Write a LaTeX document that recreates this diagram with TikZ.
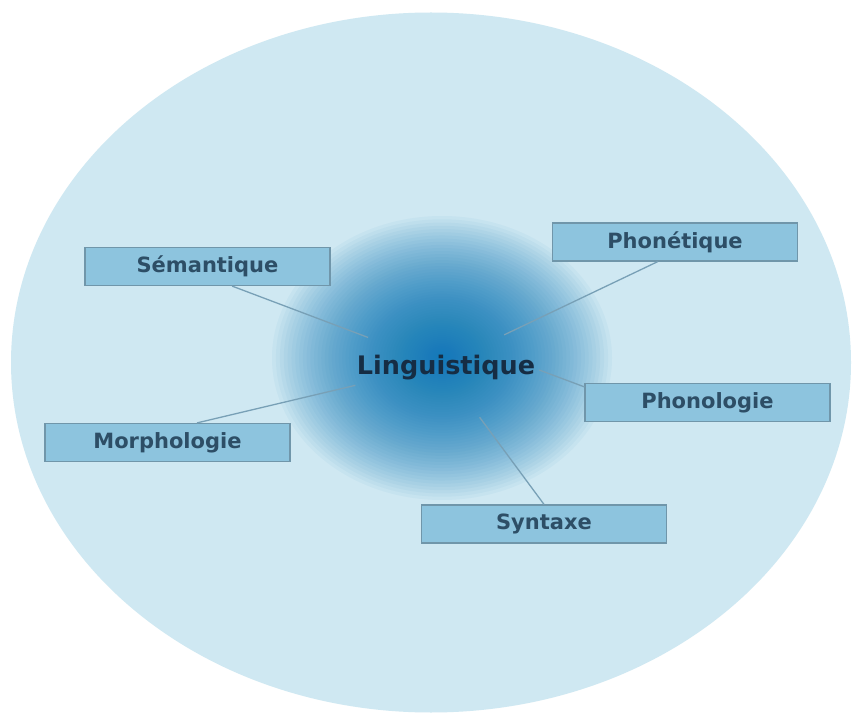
\documentclass[tikz,border=0pt]{standalone}
\usepackage{fontspec}
\setmainfont{DejaVu Sans}
\usetikzlibrary{calc}
\definecolor{bgblue}{RGB}{207,232,242}
\definecolor{boxfill}{RGB}{141,196,222}
\definecolor{boxline}{RGB}{112,150,170}
\definecolor{txt}{RGB}{45,78,102}
\definecolor{txtdark}{RGB}{22,45,68}
\definecolor{linec}{RGB}{120,160,182}
\definecolor{glowdark}{RGB}{14,122,186}
\tikzset{
  topic/.style={draw=boxline, line width=1.2pt, fill=boxfill, minimum width=245pt, minimum height=38pt, inner sep=0pt, text=txt, font=\bfseries\fontsize{21}{24}\selectfont},
  link/.style={draw=linec, line width=1.3pt},
  glowlayer/.style={fill=glowdark, fill opacity=0.045},
}
\begin{document}
\begin{tikzpicture}[x=1pt,y=1pt]
\useasboundingbox (0,0) rectangle (862,716);
\fill[white] (0,0) rectangle (862,716);
\fill[bgblue] (431,353.5) ellipse [x radius=420, y radius=350];
\foreach \k in {60,59,...,1}{
  \pgfmathsetmacro{\f}{(\k/60)^1.4}
  \fill[glowlayer] (442,358) ellipse [x radius={170*\f}, y radius={142*\f}];
}
\coordinate (c) at (441,351);
\node[topic] (sem) at (207.5,449.5) {Sémantique};
\node[topic] (phon) at (675,474) {Phonétique};
\node[topic] (morph) at (167.5,273.5) {Morphologie};
\node[topic] (syn) at (544,192) {Syntaxe};
\node[topic] (phonol) at (707.5,313.5) {Phonologie};
\node[inner sep=0pt, text=txtdark, font=\bfseries\fontsize{25.5}{29}\selectfont] (ling) at (446,348) {Linguistique};
\draw[link, shorten >=78pt] ($(sem.south west)!0.6!(sem.south east)$) -- (c);
\draw[link, shorten >=70pt] ($(phon.south west)!0.43!(phon.south east)$) -- (c);
\draw[link, shorten >=88pt] ($(morph.north west)!0.62!(morph.north east)$) -- (c);
\draw[link, shorten >=65pt] ($(syn.north west)!0.5!(syn.north east)$) -- (c);
\coordinate (le) at ($(ling.east)+(4pt,-2pt)$);
\draw[link] (le) -- ([yshift=-4pt]phonol.north west);
\end{tikzpicture}
\end{document}
